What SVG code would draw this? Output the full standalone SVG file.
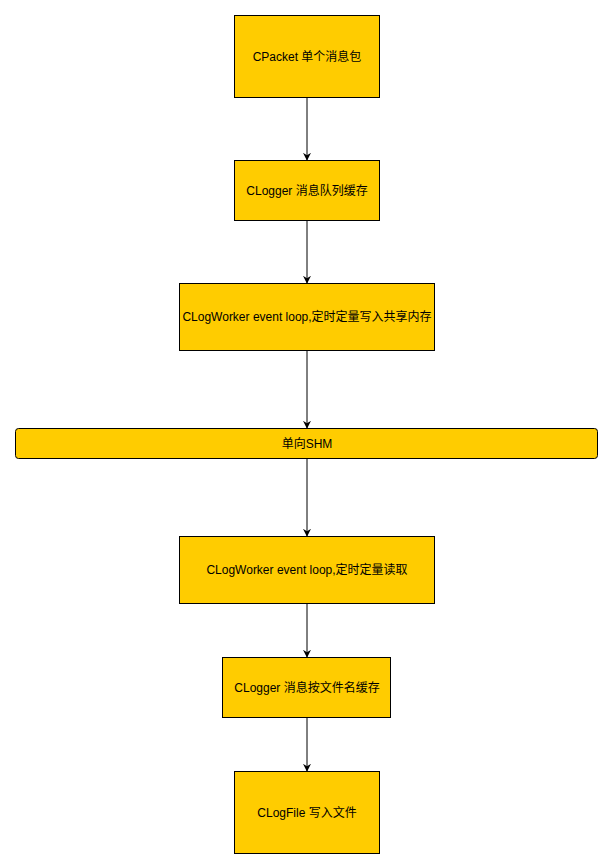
<svg xmlns="http://www.w3.org/2000/svg" width="613" height="868" viewBox="0 0 613 868">
  <style>
    .box { fill: #ffcc00; stroke: #000000; stroke-width: 1; }
    .lbl { font-family: "Liberation Sans", "Noto Sans CJK SC", sans-serif; font-size: 12px; fill: #000000; text-anchor: middle; dominant-baseline: central; }
    .edge { fill: none; stroke: #000000; stroke-width: 1; }
  </style>
  <defs>
    <marker id="arrow" viewBox="0 0 10 10" refX="9" refY="5" markerWidth="8" markerHeight="8" markerUnits="userSpaceOnUse" orient="auto">
      <path d="M0,0 L10,5 L0,10 L3,5 Z" fill="#000000"/>
    </marker>
  </defs>
  <rect width="613" height="868" fill="#ffffff"/>

  <g id="connectors">
    <line class="edge" x1="307" y1="97.5" x2="307" y2="160" marker-end="url(#arrow)"/>
    <line class="edge" x1="307" y1="220.5" x2="307" y2="283" marker-end="url(#arrow)"/>
    <line class="edge" x1="307" y1="350.5" x2="307" y2="428" marker-end="url(#arrow)"/>
    <line class="edge" x1="307" y1="458.5" x2="307" y2="536" marker-end="url(#arrow)"/>
    <line class="edge" x1="307" y1="603.5" x2="307" y2="657" marker-end="url(#arrow)"/>
    <line class="edge" x1="307" y1="717.5" x2="307" y2="771" marker-end="url(#arrow)"/>
  </g>

  <g id="cpacket">
    <rect class="box" x="234.5" y="15.5" width="145" height="82"/>
    <text class="lbl" x="307" y="56.5">CPacket 单个消息包</text>
  </g>
  <g id="clogger-queue">
    <rect class="box" x="234.5" y="160.5" width="145" height="60"/>
    <text class="lbl" x="307" y="190.5">CLogger 消息队列缓存</text>
  </g>
  <g id="worker-write">
    <rect class="box" x="179.5" y="283.5" width="255" height="67"/>
    <text class="lbl" x="307" y="317">CLogWorker event loop,定时定量写入共享内存</text>
  </g>
  <g id="shm">
    <rect class="box" x="15.5" y="428.5" width="582" height="30" rx="3" ry="3"/>
    <text class="lbl" x="307" y="443.5">单向SHM</text>
  </g>
  <g id="worker-read">
    <rect class="box" x="179.5" y="536.5" width="255" height="67"/>
    <text class="lbl" x="307" y="570">CLogWorker event loop,定时定量读取</text>
  </g>
  <g id="clogger-file">
    <rect class="box" x="222.5" y="657.5" width="168" height="60"/>
    <text class="lbl" x="307" y="687.5">CLogger 消息按文件名缓存</text>
  </g>
  <g id="clogfile">
    <rect class="box" x="234.5" y="771.5" width="145" height="82"/>
    <text class="lbl" x="307" y="812.5">CLogFile 写入文件</text>
  </g>
</svg>
